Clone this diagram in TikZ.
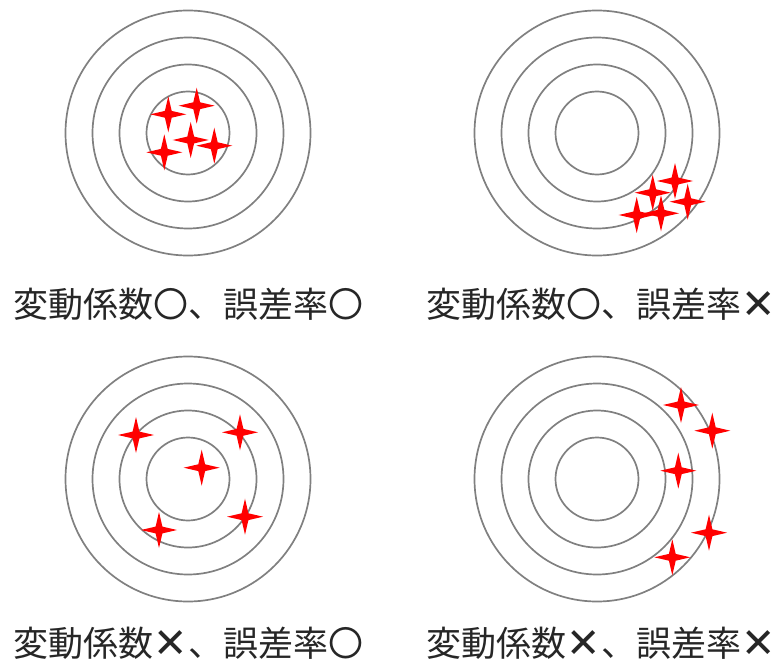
\documentclass[tikz,border=0pt]{standalone}
\usepackage{fontspec}
\newfontfamily\jpfont{Noto Sans CJK JP}
\newfontfamily\symfont{DejaVu Sans}
\newcommand\xmk{\makebox[35pt]{\raisebox{-1.5pt}{\symfont\fontsize{41}{44}\selectfont ✕}}}
\definecolor{ringgray}{HTML}{808080}
\definecolor{starred}{HTML}{FF0000}
\tikzset{
  ring/.style={draw=ringgray,line width=1.7pt},
  lbl/.style={anchor=west,inner sep=0pt,text=black!85,font=\jpfont\fontsize{35}{40}\selectfont},
  redstar/.pic={\fill[starred] (0,-18) -- (3.4,-3.4) -- (18,0) -- (3.4,3.4) -- (0,18) -- (-3.4,3.4) -- (-18,0) -- (-3.4,-3.4) -- cycle;}
}
\begin{document}
\begin{tikzpicture}[x=1pt,y=-1pt]
\useasboundingbox (0,0) rectangle (773,666);
% target centres
\coordinate (tl) at (188,133);
\coordinate (tr) at (597,133);
\coordinate (bl) at (188,479);
\coordinate (br) at (597,479);
\foreach \c in {tl,tr,bl,br}{
  \foreach \r in {41.5,68.5,95.5,122.5}{
    \draw[ring] (\c) circle[radius=\r];
  }
}
% top-left stars
\pic at (168.3,114.3) {redstar};
\pic at (196.7,105.7) {redstar};
\pic at (190.7,140) {redstar};
\pic at (214.3,145.7) {redstar};
\pic at (164.3,152.3) {redstar};
% top-right stars
\pic at (675,181) {redstar};
\pic at (652.7,192.7) {redstar};
\pic at (687.7,201.7) {redstar};
\pic at (636.7,215) {redstar};
\pic at (661,213.3) {redstar};
% bottom-left stars
\pic at (136,435) {redstar};
\pic at (240,432.3) {redstar};
\pic at (201.7,467.7) {redstar};
\pic at (245,516.7) {redstar};
\pic at (159,530) {redstar};
% bottom-right stars
\pic at (681,405) {redstar};
\pic at (712.3,430.7) {redstar};
\pic at (678.3,470.7) {redstar};
\pic at (709,532.7) {redstar};
\pic at (672.3,557.3) {redstar};
% labels
\node[lbl] (ltl) at (13,304) {変動係数〇、誤差率〇};
\node[lbl] (ltr) at (426,304) {変動係数〇、誤差率\xmk};
\node[lbl] (lbl) at (13,643) {変動係数\xmk、誤差率〇};
\node[lbl] (lbr) at (426,643) {変動係数\xmk、誤差率\xmk};
\end{tikzpicture}
\end{document}
